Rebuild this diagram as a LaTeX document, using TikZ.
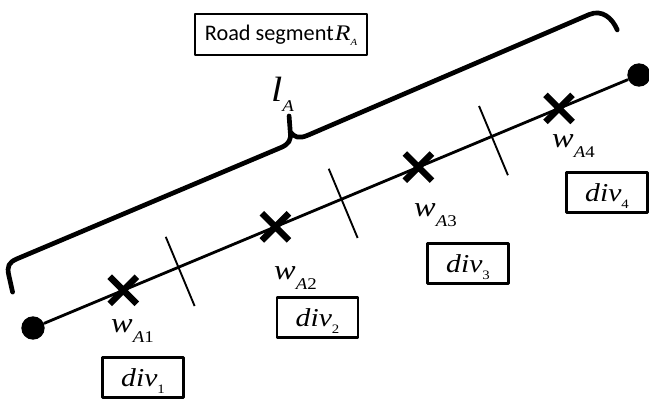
\documentclass[tikz,border=0pt]{standalone}
\usepackage{fontspec}
\setmainfont{Liberation Serif}
\newfontfamily\cali{Carlito}
\newfontfamily\eqfont[FakeStretch=1.15]{Liberation Serif}
\usetikzlibrary{calc,shapes.misc}
\newcommand\sublow[3]{\raisebox{-#2}{\fontsize{#1}{#1}\selectfont #3}}

\begin{document}
\begin{tikzpicture}[x=0.3mm,y=0.3mm,line join=round,
	dot/.style={circle,fill,inner sep=0pt,minimum size=7mm},
	road/.style={line width=2.4pt},
	wpt/.style={cross out,draw,line width=5.5pt,inner sep=0pt,minimum size=6.2mm},
	divline/.style={line width=1.6pt},
	brace/.style={line width=4pt,line cap=round},
	box/.style={draw,line width=2pt,inner sep=0pt},
	divbox/.style={box,minimum width=24.3mm,minimum height=12mm,text height=15pt,text depth=0pt,font=\eqfont\itshape\fontsize{22}{24}\selectfont},
	wlabel/.style={anchor=base west,inner sep=0pt,font=\eqfont\itshape\fontsize{24}{26}\selectfont}]
	\useasboundingbox (0,0) rectangle (649,399);
	% end points of the road segment
	\node[dot] (A) at (33,71) {};
	\node[dot] (B) at (639,324) {};
	% brace over the whole length
	\begin{scope}[shift={(A)},rotate=22.66]
		\draw[brace] (-5,41) -- (-2,58) .. controls (-0.5,67) and (3,70) .. (12,70) -- (298,71)
			.. controls (307,71) and (311,74) .. (313,82) -- (318,97) -- (313,82)
			.. controls (315,75) and (318,72) .. (328,72) -- (634,75)
			.. controls (648,75) and (654,63) .. (654,50);
	\end{scope}
	\draw[road] (A) -- (B);
	% division borders
	\foreach \t/\n in {0.24/1,0.509/2,0.757/3}{
		\coordinate (m\n) at ($(A)!\t!(B)$);
		\coordinate (u\n) at ($(m\n)!9.9mm!90:(B)$);
		\coordinate (d\n) at ($(m\n)!12.6mm!-90:(B)$);
		\draw[divline] (u\n) -- (d\n);
	}
	% way points
	\foreach \t/\n in {0.149/1,0.4/2,0.636/3,0.868/4}
		\node[wpt] (w\n) at ($(A)!\t!(B)$) {};
	\node[wlabel] (lw1) at (111,66) {w\sublow{14}{8pt}{A\upshape 1}};
	\node[wlabel] (lw2) at (274,119) {w\sublow{14}{8pt}{A\upshape 2}};
	\node[wlabel] (lw3) at (414,182) {w\sublow{14}{8pt}{A\upshape 3}};
	\node[wlabel] (lw4) at (552,251) {w\sublow{14}{8pt}{A\upshape 4}};
	\node[divbox] (div1) at (143,21.5) {div\sublow{11}{6pt}{\upshape 1}};
	\node[divbox] (div2) at (317.5,81.5) {div\sublow{11}{6pt}{\upshape 2}};
	\node[divbox] (div3) at (468,135.5) {div\sublow{11}{6pt}{\upshape 3}};
	\node[divbox] (div4) at (607,206.5) {div\sublow{11}{6pt}{\upshape 4}};
	\node[anchor=base west,inner sep=0pt,font=\eqfont\itshape\fontsize{30}{32}\selectfont] (len) at (271,297) {l\sublow{14}{8.5pt}{A}};
	\node[box,minimum width=51.6mm,minimum height=12.3mm,text height=11pt,text depth=0pt] (seg) at (281,364.5)
		{\fontsize{19}{21}\selectfont\cali Road segment\kern1pt{\eqfont\itshape R\sublow{8}{3.6pt}{A}}};
\end{tikzpicture}
\end{document}
